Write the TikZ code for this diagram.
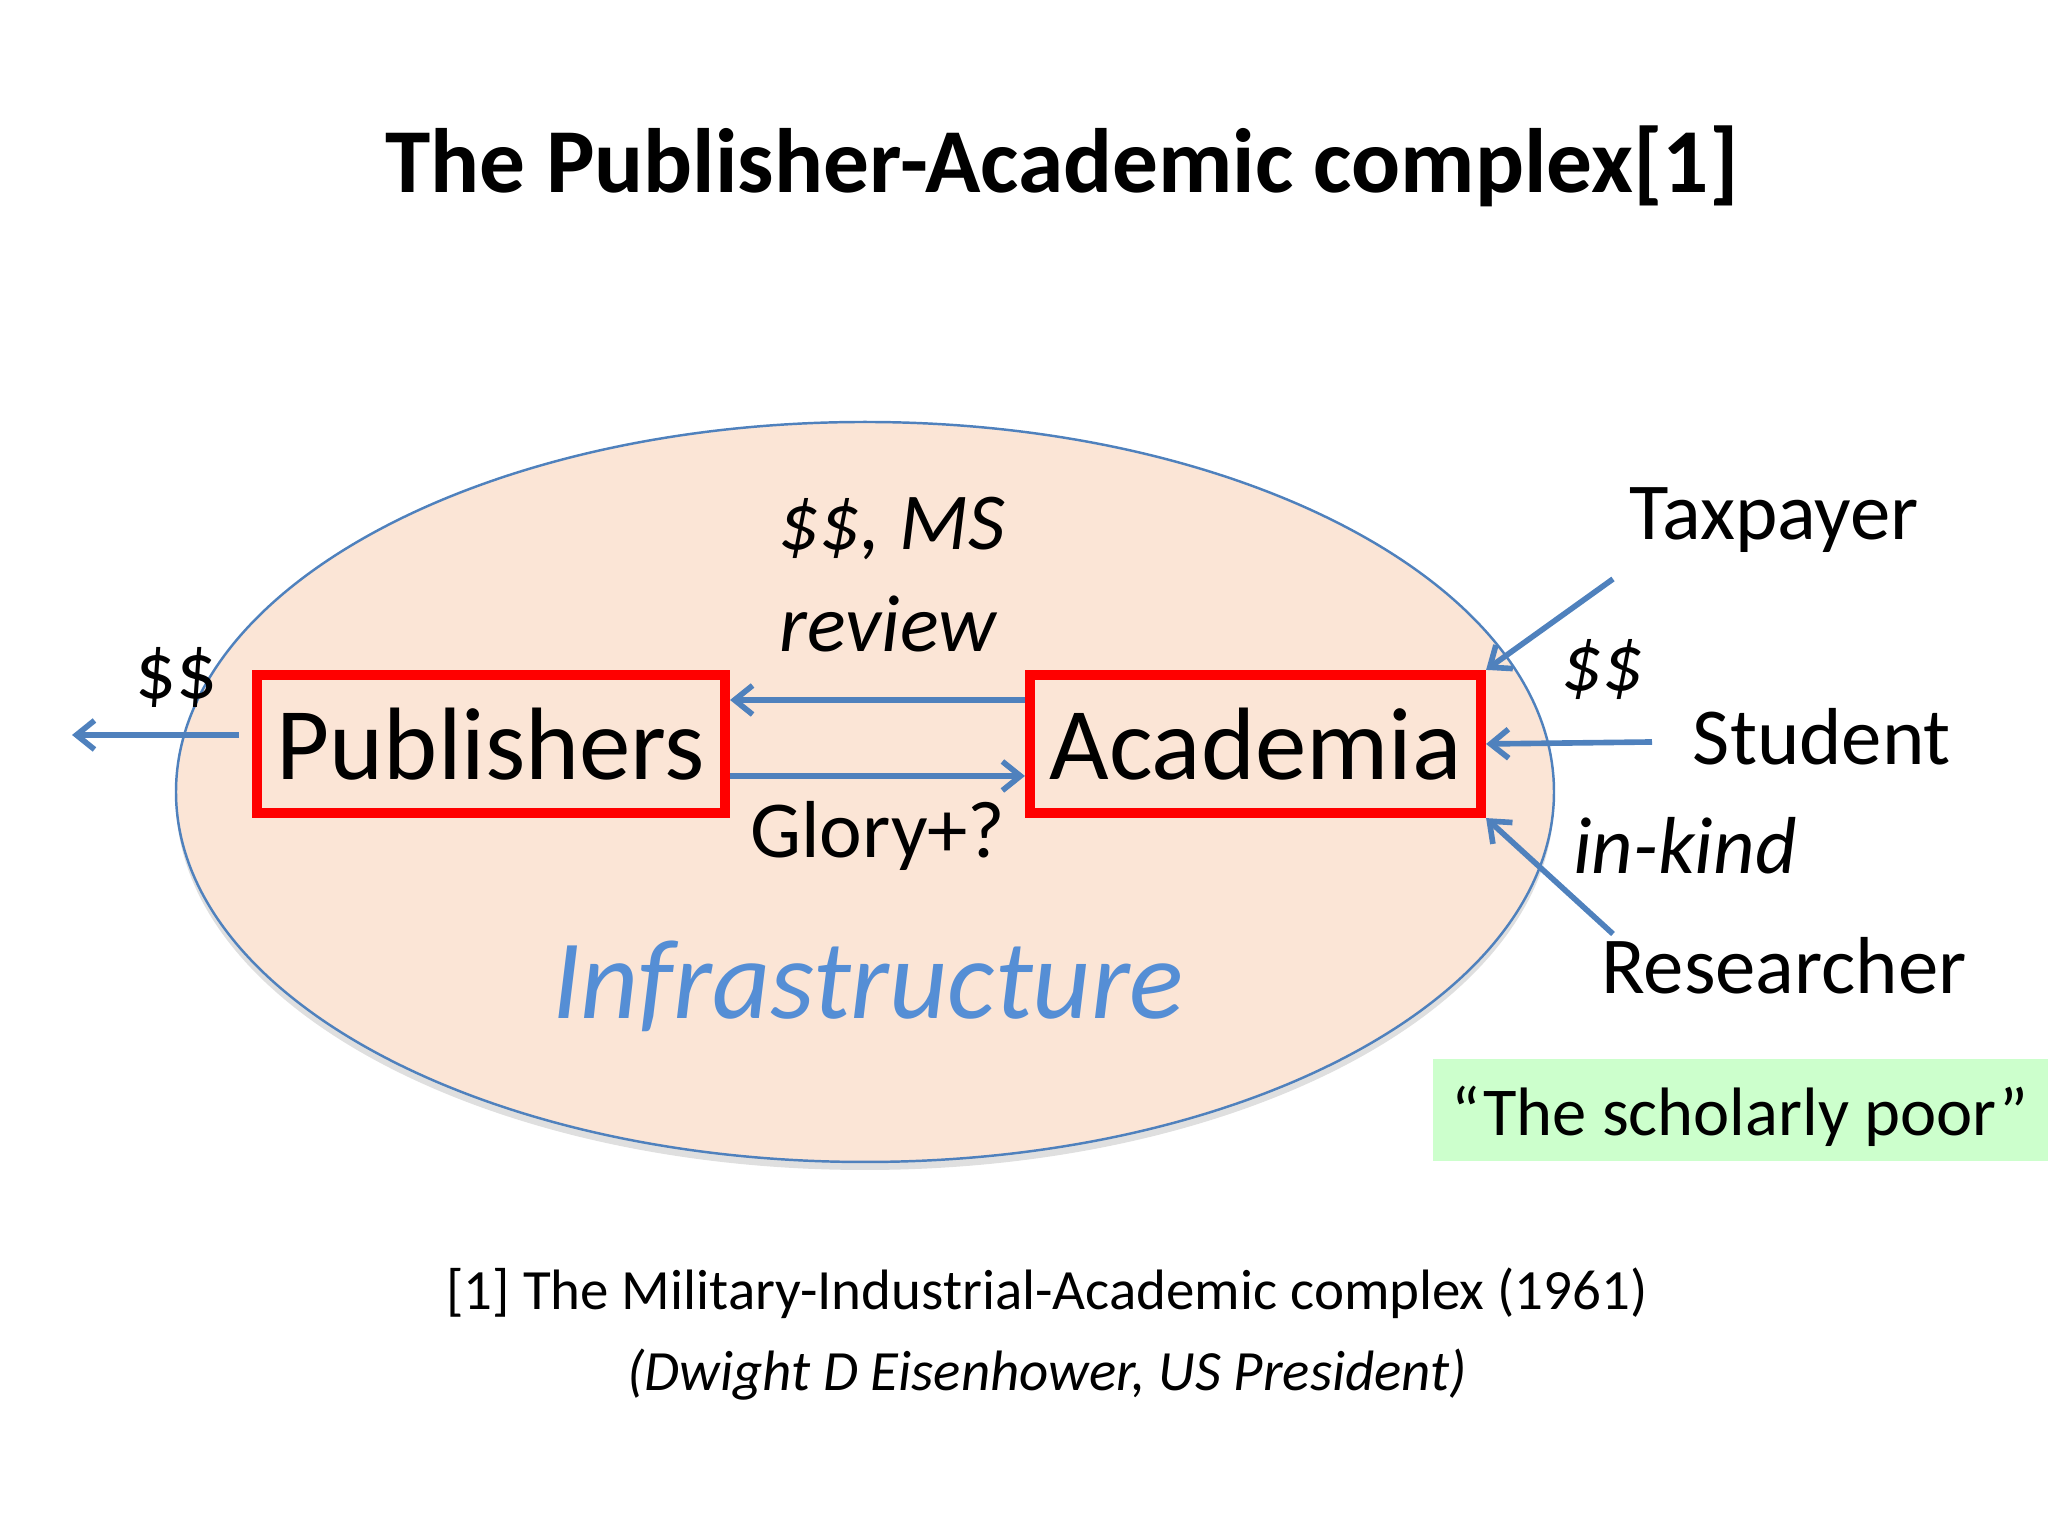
\documentclass[tikz,border=0pt]{standalone}
\usepackage{fontspec}
\setmainfont{Carlito}
\usepackage{xcolor}
\definecolor{peach}{RGB}{251,229,214}
\definecolor{linkblue}{RGB}{79,129,189}
\definecolor{infrablue}{RGB}{85,142,213}
\definecolor{palegreen}{RGB}{204,255,204}
\usepackage{tikz}
\usetikzlibrary{positioning,arrows.meta,shadows}

\begin{document}
\begin{tikzpicture}[
  actor/.style={draw=red, line width=2.9pt, minimum width=#1, minimum height=1.38cm,
    inner sep=0pt, font=\fontsize{29.3}{36}\selectfont},
  flow/.style={-{Straight Barb[length=1.8mm,width=2.9mm]}, linkblue, line width=1.6pt},
  party/.style={font=\fontsize{23}{28}\selectfont},
  gift/.style={font=\fontsize{23}{28}\selectfont\itshape},
]
\useasboundingbox (0,0) rectangle (20.48,15.36);

% Title
\node[font=\fontsize{26}{32}\selectfont\bfseries] (title) at (10.62,13.70) {The Publisher-Academic complex[1]};

% Infrastructure ellipse
\draw[linkblue, line width=0.7pt, fill=peach,
  drop shadow={opacity=0.25, shadow xshift=0pt, shadow yshift=-0.8mm}]
  (8.65,7.44) ellipse (6.89 and 3.70);
\node[font=\fontsize{32.2}{38}\selectfont\itshape, text=infrablue] (infra) at (8.68,5.50) {Infrastructure};

% The two players
\node[actor=4.68cm] (pub) at (4.91,7.92) {Publishers};
\node[actor=4.51cm] (acad) at (12.555,7.92) {Academia};

% Exchange between them
\draw[flow] ([yshift=4.4mm]acad.west) -- ([yshift=4.4mm]pub.east);
\draw[flow] ([yshift=-3.2mm]pub.east) -- ([yshift=-3.2mm]acad.west);
\node[gift] (ms) at (8.92,10.07) {\$\$, MS};
\node[gift] (review) at (8.88,9.12) {review};
\node[party] (glory) at (8.78,7.00) {Glory+?};

% Money out of the system
\coordinate (out) at (0.72,8.01);
\draw[flow] ([xshift=-1.3mm,yshift=0.9mm]pub.west) -- (out);
\node[party] (outcash) at (1.76,8.59) {\$\$};

% Who pays in
\node[party] (tax) at (17.74,10.16) {Taxpayer};
\node[party] (student) at (18.22,7.99) {Student};
\node[party] (res) at (17.84,5.70) {Researcher};
\coordinate (taxstart) at (16.13,9.57);
\coordinate (stustart) at (16.52,7.94);
\coordinate (resstart) at (16.13,6.02);
\draw[flow] (taxstart) -- (acad.north east);
\draw[flow] (stustart) -- (acad.east);
\draw[flow] (resstart) -- (acad.south east);
\node[gift] (incash) at (16.02,8.66) {\$\$};
\node[gift] (inkind) at (16.85,6.90) {in-kind};

% The scholarly poor
\node[fill=palegreen, minimum width=6.15cm, minimum height=1.02cm, inner sep=0pt] (poor) at (17.405,4.26) {};
\node[font=\fontsize{19.5}{24}\selectfont] (poortext) at (17.40,4.20) {“The scholarly poor”};

% Footnote
\node[font=\fontsize{16.2}{20}\selectfont] (note) at (10.47,2.43) {[1] The Military-Industrial-Academic complex (1961)};
\node[font=\fontsize{16.2}{20}\selectfont\itshape] (who) at (10.47,1.61) {(Dwight D Eisenhower, US President)};

\end{tikzpicture}
\end{document}
